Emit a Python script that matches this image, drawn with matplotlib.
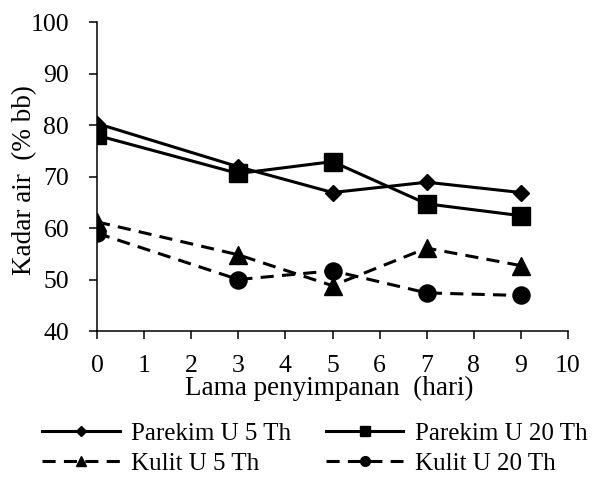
import matplotlib
matplotlib.use("Agg")
import matplotlib.pyplot as plt
from matplotlib.lines import Line2D

# Data
hari = [0, 3, 5, 7, 9]
parekim_5 = [80.3, 71.9, 66.9, 68.9, 66.9]
parekim_20 = [78.0, 70.6, 72.9, 64.7, 62.4]
kulit_5 = [61.2, 54.8, 48.8, 56.1, 52.7]
kulit_20 = [59.0, 50.0, 51.7, 47.4, 46.9]

# label, values, linestyle, marker, marker size (plot), marker size (legend)
series = [
    ("Parekim U 5 Th", parekim_5, "-", "D", 8.5, 4.8),
    ("Parekim U 20 Th", parekim_20, "-", "s", 12.5, 7),
    ("Kulit U 5 Th", kulit_5, "--", "^", 13, 7.5),
    ("Kulit U 20 Th", kulit_20, "--", "o", 12.3, 7),
]

plt.rcParams["font.family"] = ["Liberation Serif", "DejaVu Serif"]

fig = plt.figure(figsize=(5.97, 4.88), dpi=100)
ax = fig.add_axes([0.1625, 0.3217, 0.789, 0.633])

lw = 2.2
dash = (4.3, 2.7)
handles = {}
for label, vals, ls, mk, ms, lms in series:
    kw = dict(dashes=dash) if ls == "--" else {}
    ax.plot(hari, vals, linestyle=ls, marker=mk, markersize=ms, color="black",
            linewidth=lw, **kw)
    handles[label] = Line2D([], [], linestyle=ls, marker=mk, markersize=lms,
                            color="black", linewidth=lw, **kw)

ax.set_xlim(0, 10)
ax.set_ylim(40, 100)
ax.set_xticks(range(0, 11))
ax.set_yticks(range(40, 101, 10))
ax.spines["top"].set_visible(False)
ax.spines["right"].set_visible(False)
ax.spines["left"].set_linewidth(1.1)
ax.spines["bottom"].set_linewidth(1.1)
ax.tick_params(axis="both", direction="out", length=6, width=1.1,
               labelsize=18.5, pad=11)
ax.tick_params(axis="y", pad=14)
ax.set_xlabel("Lama penyimpanan  (hari)", fontsize=19.5)
ax.set_ylabel("Kadar air  (% bb)", fontsize=19.5)
ax.xaxis.set_label_coords(0.493, -0.146)
ax.yaxis.set_label_coords(-0.127, 0.49)
for lab in ax.get_xticklabels() + ax.get_yticklabels():
    lab.set_clip_on(False)

# legend is filled column by column, so order it to read row-wise
order = ["Parekim U 5 Th", "Kulit U 5 Th", "Parekim U 20 Th", "Kulit U 20 Th"]
fig.legend([handles[k] for k in order], order, ncol=2, loc="upper left",
           bbox_to_anchor=(42 / 597, 1 - 422 / 488), frameon=False,
           fontsize=18, borderpad=0, borderaxespad=0,
           handlelength=3.1, columnspacing=1.4, handletextpad=0.45,
           labelspacing=0.31)

fig.savefig("out.png", dpi=100)
